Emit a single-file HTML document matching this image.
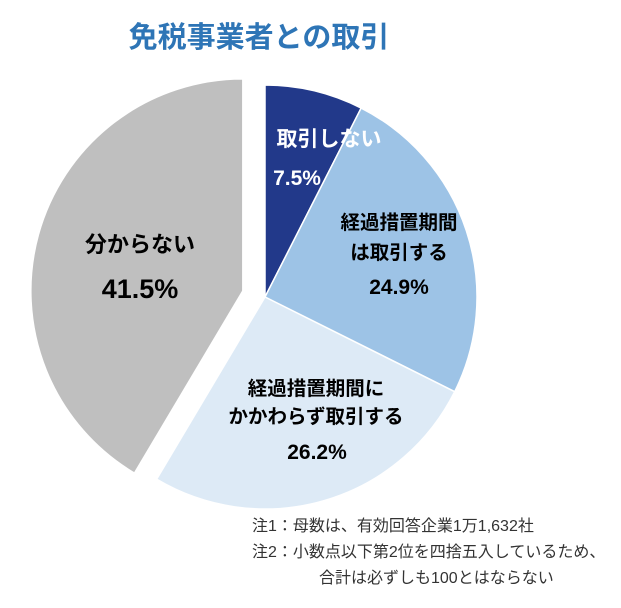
<!DOCTYPE html>
<html><head><meta charset="utf-8"><style>
body{margin:0;background:#fff;width:621px;height:608px;overflow:hidden}
svg{display:block;font-family:"Liberation Sans","Noto Sans CJK JP",sans-serif}
</style></head><body>
<svg width="621" height="608" viewBox="0 0 621 608">
<text x="259" y="47" text-anchor="middle" font-size="29" font-weight="bold" fill="#2e75b6">免税事業者との取引</text>
<g id="slices"></g>
<g font-weight="bold" font-size="19.5" text-anchor="middle">
<text x="329" y="146" fill="#fff" font-size="21">取引しない</text>
<text x="297" y="185" fill="#fff" font-size="21">7.5%</text>
<text x="399" y="229" fill="#000">経過措置期間</text>
<text x="399" y="259" fill="#000">は取引する</text>
<text x="399" y="294" fill="#000" font-size="21">24.9%</text>
<text x="316" y="395" fill="#000">経過措置期間に</text>
<text x="316" y="423" fill="#000">かかわらず取引する</text>
<text x="317" y="459" fill="#000" font-size="21">26.2%</text>
<text x="140" y="252" fill="#000" font-size="22">分からない</text>
<text x="140" y="298" fill="#000" font-size="27">41.5%</text>
</g>
<g font-size="16" fill="#333">
<text x="252" y="531">注1：母数は、有効回答企業1万1,632社</text>
<text x="252" y="557">注2：小数点以下第2位を四捨五入しているため、</text>
<text x="319" y="583">合計は必ずしも100とはならない</text>
</g>
</svg>
<script>
const categories=["取引しない","経過措置期間は取引する","経過措置期間にかかわらず取引する","分からない"];
const values=[7.5,24.9,26.2,41.5];
const colors=["#22398a","#9dc3e6","#ddeaf6","#bfbfbf"];
const explode=[0,0,0,23];
const cx=265,cy=297,r=212;
const g=document.getElementById('slices');
const total=values.reduce((a,b)=>a+b,0);
let acc=0;
function pt(a,rad,ox,oy){return [ox+rad*Math.sin(a),oy-rad*Math.cos(a)];}
values.forEach((v,i)=>{
  const a0=acc/total*2*Math.PI; acc+=v; const a1=acc/total*2*Math.PI;
  const mid=(a0+a1)/2;
  const ox=cx+explode[i]*Math.sin(mid), oy=cy-explode[i]*Math.cos(mid);
  const p0=pt(a0,r,ox,oy),p1=pt(a1,r,ox,oy);
  const large=(a1-a0)>Math.PI?1:0;
  const p=document.createElementNS('http://www.w3.org/2000/svg','path');
  p.setAttribute('d',`M${ox},${oy}L${p0[0]},${p0[1]}A${r},${r} 0 ${large} 1 ${p1[0]},${p1[1]}Z`);
  p.setAttribute('fill',colors[i]);
  p.setAttribute('stroke','#fff');
  p.setAttribute('stroke-width','1.5');
  
  
  g.appendChild(p);
});
</script>
</body></html>
